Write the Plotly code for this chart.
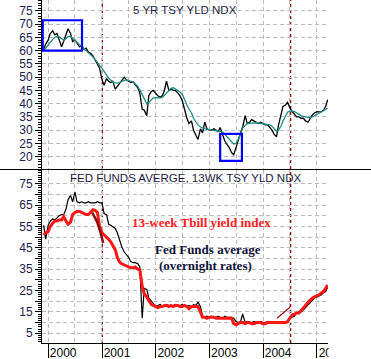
import pandas as pd
import plotly.graph_objects as go

# ---------------- data (semi-monthly samples, Dec 1999 .. Mar 2005) ----------------
dates = pd.date_range("1999-12-01", periods=128, freq="SMS")

# 5-year Treasury yield index (x10)
yld5 = [60.5, 62.5,
        64, 66.5, 67.5, 66, 66.5, 64, 61.5, 63.5, 66, 68.3, 66.5, 63.5, 64, 62.8, 61.5, 62, 60.5, 61, 59.5, 59, 58, 56.5, 55, 53.5,
        49, 47, 49.5, 48.5, 48, 48.5, 45.5, 46.5, 48, 49, 50, 49, 48.5, 48, 48.2, 47, 46, 44, 38, 37.5, 35.5, 43, 44.5, 45,
        44, 43, 42.5, 43, 45, 48.5, 45, 45.5, 45, 45, 44, 43, 41, 37.5, 34.5, 32.5, 33.5, 30, 28, 26.5, 30.5, 29, 33, 30.5,
        30, 30, 30.5, 30, 29.5, 31, 28.5, 26, 24.5, 23.5, 21.5, 20.7, 23.5, 26.3, 29, 31.2, 35.5, 32.5, 33, 34, 33.5, 33, 32.5, 33,
        32.5, 32, 32, 31, 30, 28.5, 27.5, 32, 36, 39, 39.5, 40.5, 38.5, 37, 36, 35, 35, 34.5, 34.5, 33.5, 33, 34.5, 35.8, 36.5,
        37, 36.9, 37, 37.5, 39, 41.5]

# its moving average (teal)
yld5_ma = [60, 61,
           62.5, 63.5, 64.3, 65, 65.5, 65.3, 64.5, 64, 64.5, 65.3, 65.5, 64.8, 64, 63.3, 62.5, 61.8, 61, 60.2, 59.5, 58.5, 57.6, 56.7, 55.7, 54.5,
           53.3, 52, 50.8, 49.7, 48.8, 48.2, 47.9, 47.8, 48, 48.5, 48.8, 49, 48.8, 48.5, 48.2, 47.5, 46.5, 45.2, 43.5, 41.5, 40, 40.5, 41.5, 42.2,
           42.3, 42.2, 42.2, 42.4, 43.2, 44.4, 45.2, 45.8, 46, 45.5, 45, 44.4, 43.5, 41.5, 39.5, 38, 36.5, 34.5, 33, 32, 31.2, 30.8, 30.5, 30.3,
           30.2, 30, 30, 29.9, 29.8, 29.6, 29.3, 28.5, 27.5, 26.5, 25.5, 24.8, 25, 26.5, 28.5, 30.8, 31.8, 32.5, 32.6, 32.7, 32.8, 32.8, 32.7, 32.6,
           32.5, 32.4, 32.2, 32, 31.5, 30.5, 29.5, 30, 31.5, 33.5, 35.5, 36.8, 37.2, 37.3, 37, 36.5, 36, 35.5, 35.2, 35, 34.8, 34.7, 35, 35.4,
           35.8, 36.3, 36.8, 37.3, 37.8, 38.4]

# Fed funds average (x10)
fed_funds = [55.5, 49,
             55.5, 57.5, 58.5, 58, 59, 60, 60.5, 60.5, 63, 67.5, 69.5, 66.5, 71, 66.5, 66, 66.5, 66, 66, 66.5, 66, 66, 66, 66.5, 66,
             66, 61, 60.5, 56, 55.5, 55, 54, 52, 48, 45.5, 43, 42, 40.5, 38.5, 38, 38, 37.5, 36, 12, 26, 25.5, 21.5, 20, 18.5,
             17.5, 18, 18.5, 17.5, 18, 18.5, 18, 17.5, 18, 18.5, 17.5, 18, 18.5, 17.5, 18, 18, 17.5, 18.5, 18, 19.5, 17.5, 13, 12.5, 13,
             12.5, 13, 12.5, 12.5, 13, 12.5, 12, 13, 12.5, 12.5, 12.5, 12, 10.5, 10, 10.5, 14, 10, 10.5, 10, 10, 10.5, 10, 10, 10.5,
             10, 10, 10.5, 10, 10, 10, 10, 10.5, 10, 10, 10, 10, 12.5, 12.5, 13, 14.5, 15, 15, 16, 17, 18, 19.5, 20.5, 21.5,
             22, 22.5, 23, 24, 24.5, 26.5]

# 13-week T-bill yield index (x10)
tbill13 = [51, 52,
           52.5, 55, 56.5, 57.5, 57.5, 58, 58, 59.5, 57.5, 56, 57, 60.5, 61.5, 62, 62, 61.5, 61, 60.5, 60.5, 61.5, 62.8, 62.5, 61.5, 55,
           52, 51, 50, 49, 47.8, 46.3, 44, 40.5, 38.3, 37.5, 37, 36.5, 36, 35.6, 35.6, 36, 35, 34.7, 27, 23.5, 22, 20, 18.5, 18,
           17.5, 17, 17.5, 17.5, 18, 18, 17.5, 18, 17.5, 18, 18, 17.5, 17.5, 18, 17.5, 16.5, 17.5, 17.5, 17.5, 17.5, 15, 12.5, 12.5, 12,
           12.5, 12.5, 12.5, 12, 12, 12, 12, 12, 12, 12, 12, 9.5, 9, 9.5, 10, 10, 9.5, 10, 10, 9.5, 9.5, 10, 10, 10,
           9.5, 9.5, 10, 10, 10, 10, 10, 10, 10, 10, 10, 10.5, 12, 13.5, 14, 14.5, 14.5, 15.5, 17, 18, 19.5, 20.5, 21.5, 22,
           22.5, 23, 24, 24.5, 26, 27.5]

# hand-drawn chart markings
box_x0 = ["1999-11-25", "2003-03-15"]
box_x1 = ["2000-08-18", "2003-08-10"]
box_y0 = [60, 18.4]
box_y1 = [71.5, 28.6]
event_dates = ["2001-01-03", "2004-07-06"]
sketch1_x = ["2000-10-27", "2000-11-29", "2000-12-20", "2001-01-09"]
sketch1_y = [61.5, 57, 52.5, 47.3]
sketch2_x = ["2004-04-05", "2004-07-03"]
sketch2_y = [12, 17.3]

top_ticks = list(range(20, 80, 5))
bot_ticks = list(range(5, 80, 5))
bot_text = [str(v) if v % 10 == 5 else "" for v in bot_ticks]
bot_r_ticks = [v / 10 for v in bot_ticks]
bot_r_text = [f"{v/10:.1f}" if v % 10 == 5 else "" for v in bot_ticks]

# ---------------- figure ----------------
LBL = "#1c2250"
GRID = "#bcbcbc"
font_ax = dict(family="Liberation Sans, Arial, sans-serif", size=12, color=LBL)
split = 0.5058

fig = go.Figure()
fig.add_trace(go.Scatter(x=dates, y=yld5, xaxis="x2", yaxis="y2", mode="lines",
                         line=dict(color="black", width=1.3)))
fig.add_trace(go.Scatter(x=dates, y=yld5_ma, xaxis="x2", yaxis="y2", mode="lines",
                         line=dict(color="#1f8c88", width=1.3)))
fig.add_trace(go.Scatter(x=dates, y=fed_funds, xaxis="x", yaxis="y", mode="lines",
                         line=dict(color="black", width=1.2)))
fig.add_trace(go.Scatter(x=dates, y=tbill13, xaxis="x", yaxis="y", mode="lines",
                         line=dict(color="#ff1616", width=3)))
fig.add_trace(go.Scatter(x=sketch1_x, y=sketch1_y, xaxis="x", yaxis="y", mode="lines",
                         line=dict(color="#8c1010", width=2.5)))
fig.add_trace(go.Scatter(x=sketch2_x, y=sketch2_y, xaxis="x", yaxis="y", mode="lines",
                         line=dict(color="#8c1010", width=1.2)))

shapes = []
for x0, x1, y0, y1 in zip(box_x0, box_x1, box_y0, box_y1):
    shapes.append(dict(type="rect", xref="x2", yref="y2", x0=x0, x1=x1, y0=y0, y1=y1,
                       line=dict(color="#0000ff", width=2.2), layer="above"))
for d in event_dates:
    shapes.append(dict(type="line", xref="x", yref="paper", x0=d, x1=d, y0=0, y1=1,
                       line=dict(color="#9a0a0a", width=1.3, dash="3px,3px"), layer="between"))
shapes.append(dict(type="line", xref="paper", yref="paper", x0=-0.15, x1=1.16, y0=split, y1=split,
                   line=dict(color="black", width=1)))
# mask the clipped last year label beyond the right axis
shapes.append(dict(type="rect", xref="paper", yref="paper", x0=1.002, x1=1.12, y0=-0.05, y1=-0.003,
                   fillcolor="white", line=dict(width=0), layer="above"))

xr = ["1999-11-20", "2005-03-17"]
grid_common = dict(showgrid=True, gridcolor=GRID, gridwidth=1, griddash="4px,3px",
                   minor=dict(dtick="M6", tick0="2000-01-01", showgrid=True, gridcolor=GRID,
                              griddash="4px,3px", ticks=""))

fig.update_layout(
    width=371, height=359,
    margin=dict(l=42, r=43, t=0, b=16),
    paper_bgcolor="white", plot_bgcolor="white",
    showlegend=False,
    xaxis=dict(domain=[0, 1], anchor="y", range=xr, type="date",
               dtick="M12", tick0="2000-01-01", tickformat="%Y",
               ticks="outside", ticklen=14, tickcolor="black", tickwidth=1,
               showline=True, linecolor="black", linewidth=1,
               tickfont=dict(family="Liberation Sans, Arial, sans-serif", size=12, color="black"),
               ticklabelshift=15, ticklabelstandoff=-15,
               **grid_common),
    xaxis2=dict(domain=[0, 1], anchor="y2", matches="x", range=xr, type="date",
                dtick="M12", tick0="2000-01-01", showticklabels=False, ticks="",
                showline=False, **grid_common),
    yaxis=dict(domain=[0, split], anchor="x", range=[0.45, 81.6],
               tickmode="array", tickvals=bot_ticks, ticktext=bot_text,
               ticks="outside", ticklen=6, tickcolor="black",
               showline=True, linecolor="black", linewidth=1,
               showgrid=True, gridcolor=GRID, griddash="4px,3px", zeroline=False,
               tickfont=font_ax,
               minor=dict(dtick=1, tick0=0, ticks="outside", ticklen=3, tickcolor="black", showgrid=False)),
    yaxis2=dict(domain=[split, 1], anchor="x2", range=[15.15, 79.15],
                tickmode="array", tickvals=top_ticks,
                ticks="outside", ticklen=6, tickcolor="black",
                showline=True, linecolor="black", linewidth=1,
                showgrid=True, gridcolor=GRID, griddash="4px,3px", zeroline=False,
                tickfont=font_ax,
                minor=dict(dtick=1, tick0=0, ticks="outside", ticklen=3, tickcolor="black", showgrid=False)),
    yaxis3=dict(overlaying="y2", side="right", anchor="x2", range=[15.15, 79.15],
                tickmode="array", tickvals=top_ticks,
                ticks="outside", ticklen=6, tickcolor="black",
                showline=True, linecolor="black", linewidth=1, showgrid=False, zeroline=False,
                tickfont=font_ax, ticklabelstandoff=17,
                minor=dict(dtick=1, tick0=0, ticks="outside", ticklen=3, tickcolor="black", showgrid=False)),
    yaxis4=dict(overlaying="y", side="right", anchor="x", range=[0.045, 8.16],
                tickmode="array", tickvals=bot_r_ticks, ticktext=bot_r_text,
                ticks="outside", ticklen=6, tickcolor="black",
                showline=True, linecolor="black", linewidth=1, showgrid=False, zeroline=False,
                tickfont=font_ax, ticklabelstandoff=14,
                minor=dict(dtick=0.1, tick0=0, ticks="outside", ticklen=3, tickcolor="black", showgrid=False)),
    shapes=shapes,
)

title_font = dict(family="Liberation Sans, Arial, sans-serif", size=11.5, color="#1a1c44")
serif = "Liberation Serif, Times New Roman, serif"
fig.add_annotation(text="5 YR TSY YLD NDX", xref="paper", yref="paper", x=0.5, y=0.9694,
                   xanchor="center", yanchor="middle", showarrow=False, font=title_font)
fig.add_annotation(text="FED FUNDS AVERGE, 13WK TSY YLD NDX", xref="paper", yref="paper", x=0.5, y=0.4796,
                   xanchor="center", yanchor="middle", showarrow=False, font=title_font)
fig.add_annotation(text="<b>13-week Tbill yield index</b>", xref="paper", yref="paper", x=0.559, y=0.35,
                   xanchor="center", yanchor="middle", showarrow=False,
                   font=dict(family=serif, size=13, color="#ff2020"))
fig.add_annotation(text="<b>Fed Funds average</b>", xref="paper", yref="paper", x=0.579, y=0.2726,
                   xanchor="center", yanchor="middle", showarrow=False,
                   font=dict(family=serif, size=13, color="#10123a"))
fig.add_annotation(text="<b>(overnight rates)</b>", xref="paper", yref="paper", x=0.570, y=0.226,
                   xanchor="center", yanchor="middle", showarrow=False,
                   font=dict(family=serif, size=13, color="#10123a"))

fig.write_html("out.html")
